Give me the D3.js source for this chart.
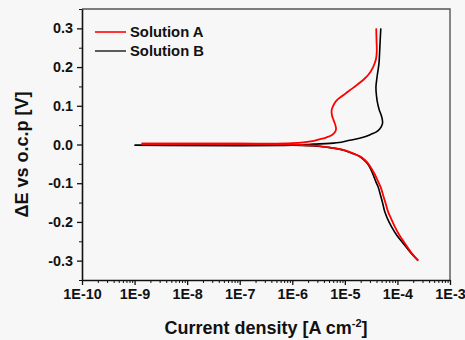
<!DOCTYPE html>
<html>
<head>
<meta charset="utf-8">
<script src="https://cdn.jsdelivr.net/npm/d3@7"></script>
<style>
  body { margin: 0; background: #f7f7f7; }
  svg { display: block; }
  text { font-family: Arial, "Liberation Sans", sans-serif; font-weight: bold; fill: #111; }
</style>
</head>
<body>
<div id="chart"></div>
<script>
// [potential V, current density A/cm2]
const solutionACathodic = [
  [-0.300, 2.48e-4], [-0.280, 1.85e-4], [-0.255, 1.38e-4], [-0.235, 1.1e-4],
  [-0.212, 8.9e-5], [-0.190, 7.5e-5], [-0.174, 6.65e-5], [-0.150, 5.9e-5],
  [-0.131, 5.35e-5], [-0.110, 4.8e-5], [-0.096, 4.3e-5], [-0.080, 3.8e-5],
  [-0.062, 3.2e-5], [-0.050, 2.8e-5], [-0.040, 2.4e-5], [-0.030, 1.9e-5],
  [-0.023, 1.44e-5], [-0.016, 1.05e-5], [-0.012, 8.0e-6], [-0.008, 5.3e-6],
  [-0.004, 3.35e-6], [-0.002, 1.9e-6], [0.000, 1.0e-6], [0.002, 1.0e-7],
  [0.002, 1.36e-9]
];
const solutionAAnodic = [
  [0.002, 1.36e-9], [0.002, 1.0e-7], [0.003, 8e-7], [0.004, 1.2e-6],
  [0.007, 1.9e-6], [0.010, 2.7e-6], [0.014, 3.4e-6], [0.018, 4.4e-6],
  [0.024, 5.6e-6], [0.032, 6.5e-6], [0.040, 6.8e-6], [0.050, 6.6e-6],
  [0.063, 6.1e-6], [0.075, 5.7e-6], [0.088, 5.6e-6], [0.100, 6.0e-6],
  [0.110, 6.6e-6], [0.118, 7.5e-6], [0.127, 9.3e-6], [0.140, 1.24e-5],
  [0.153, 1.67e-5], [0.166, 2.2e-5], [0.180, 2.8e-5], [0.200, 3.45e-5],
  [0.220, 3.9e-5], [0.240, 4.05e-5], [0.270, 4.0e-5], [0.300, 3.95e-5]
];
const solutionBCathodic = [
  [-0.300, 2.48e-4], [-0.280, 1.8e-4], [-0.255, 1.28e-4], [-0.235, 9.8e-5],
  [-0.212, 7.7e-5], [-0.190, 6.4e-5], [-0.174, 5.75e-5], [-0.150, 5.2e-5],
  [-0.131, 4.77e-5], [-0.110, 4.3e-5], [-0.096, 3.88e-5], [-0.080, 3.5e-5],
  [-0.062, 3.05e-5], [-0.050, 2.7e-5], [-0.040, 2.3e-5], [-0.030, 1.85e-5],
  [-0.023, 1.4e-5], [-0.016, 1.02e-5], [-0.012, 7.8e-6], [-0.008, 5.2e-6],
  [-0.005, 3.4e-6], [-0.003, 2.0e-6], [-0.002, 1.0e-6], [-0.002, 1.0e-9]
];
const solutionBAnodic = [
  [-0.002, 1.0e-9], [-0.002, 1.0e-6], [0.000, 2.0e-6], [0.001, 2.5e-6],
  [0.003, 5.2e-6], [0.006, 8.5e-6], [0.011, 1.24e-5], [0.016, 1.9e-5],
  [0.020, 2.4e-5], [0.026, 3.1e-5], [0.032, 3.9e-5], [0.040, 4.6e-5],
  [0.054, 5.2e-5], [0.065, 5.15e-5], [0.076, 4.9e-5], [0.090, 4.5e-5],
  [0.106, 4.2e-5], [0.125, 4.0e-5], [0.148, 3.9e-5], [0.175, 4.1e-5],
  [0.209, 4.45e-5], [0.243, 4.6e-5], [0.270, 4.7e-5], [0.300, 4.83e-5]
];

const seriesNames = ['Solution A', 'Solution B'];
const seriesColors = ['#ff0000', '#000000'];
const xTicks = [1e-10, 1e-9, 1e-8, 1e-7, 1e-6, 1e-5, 1e-4, 1e-3];
const yTicks = [-0.3, -0.2, -0.1, 0.0, 0.1, 0.2, 0.3];

const width = 465;
const height = 340;
const margin = { left: 82, right: 15, top: 9, bottom: 60 };

const svg = d3.select('#chart').append('svg')
  .attr('width', width)
  .attr('height', height);

const x = d3.scaleLog()
  .domain([1e-10, 1e-3])
  .range([margin.left, width - margin.right]);

const y = d3.scaleLinear()
  .domain([-0.35, 0.35])
  .range([height - margin.bottom, margin.top]);

// minor ticks
const xMinor = [];
xTicks.slice(0, -1).forEach((t) => {
  for (let k = 2; k < 10; k++) xMinor.push(t * k);
});
const yMinor = d3.range(-0.35, 0.351, 0.1).map(v => +v.toFixed(2));

// frame (top / right)
svg.append('path')
  .attr('d', `M${x.range()[0]},${y.range()[1]}H${x.range()[1]}V${y.range()[0]}`)
  .attr('fill', 'none')
  .attr('stroke', '#555')
  .attr('stroke-width', 1.4);

const axisStyle = (g) => {
  g.select('.domain').attr('stroke', '#111').attr('stroke-width', 1.6);
  g.selectAll('.tick line').attr('stroke', '#111').attr('stroke-width', 1.3);
  g.selectAll('text')
    .style('font-size', '14.4px')
    .style('font-family', 'Arial, "Liberation Sans", sans-serif')
    .style('font-weight', 'bold')
    .attr('fill', '#111');
};

svg.append('g')
  .attr('transform', `translate(0,${y.range()[0]})`)
  .call(d3.axisBottom(x).tickValues(xMinor).tickSize(3).tickFormat('').tickSizeOuter(0))
  .call(g => g.select('.domain').remove())
  .call(g => g.selectAll('.tick line').attr('stroke', '#111'));

svg.append('g')
  .attr('transform', `translate(0,${y.range()[0]})`)
  .call(d3.axisBottom(x)
    .tickValues(xTicks)
    .tickSize(5)
    .tickPadding(4)
    .tickSizeOuter(0)
    .tickFormat(d => `1E${Math.round(Math.log10(d))}`))
  .call(axisStyle);

svg.append('g')
  .attr('transform', `translate(${x.range()[0]},0)`)
  .call(d3.axisLeft(y).tickValues(yMinor).tickSize(3).tickFormat('').tickSizeOuter(0))
  .call(g => g.select('.domain').remove())
  .call(g => g.selectAll('.tick line').attr('stroke', '#111'));

svg.append('g')
  .attr('transform', `translate(${x.range()[0]},0)`)
  .call(d3.axisLeft(y)
    .tickValues(yTicks)
    .tickSize(5)
    .tickPadding(4)
    .tickSizeOuter(0)
    .tickFormat(d => d.toFixed(1)))
  .call(axisStyle);

// curves
const line = d3.line()
  .x(d => x(d[1]))
  .y(d => y(d[0]))
  .curve(d3.curveCatmullRom.alpha(0.5));

const branches = [
  { data: solutionBCathodic, s: 1 },
  { data: solutionBAnodic, s: 1 },
  { data: solutionACathodic, s: 0 },
  { data: solutionAAnodic, s: 0 },
];

svg.append('g')
  .selectAll('path')
  .data(branches)
  .enter()
  .append('path')
  .attr('d', d => line(d.data))
  .attr('fill', 'none')
  .attr('stroke', d => seriesColors[d.s])
  .attr('stroke-width', d => (d.s === 0 ? 1.8 : 1.6))
  .attr('stroke-linejoin', 'round');

// legend
const legend = svg.append('g')
  .selectAll('g')
  .data(seriesNames)
  .enter()
  .append('g')
  .attr('transform', (d, i) => `translate(95,${32 + i * 19})`);

legend.append('line')
  .attr('x1', 0)
  .attr('x2', 31)
  .attr('stroke', (d, i) => (i === 0 ? seriesColors[0] : '#333'))
  .attr('stroke-width', 1.6);

legend.append('text')
  .attr('x', 35)
  .attr('dy', '0.36em')
  .style('font-size', '14.8px')
  .text(d => d);

// axis titles
const xTitle = svg.append('text')
  .attr('x', (x.range()[0] + x.range()[1]) / 2)
  .attr('y', 334)
  .attr('text-anchor', 'middle')
  .style('font-size', '18px');
xTitle.append('tspan').text('Current density [A cm');
xTitle.append('tspan').attr('dy', -7).style('font-size', '11px').text('-2');
xTitle.append('tspan').attr('dy', 7).text(']');

svg.append('text')
  .attr('transform', `translate(28,${y(0) + 10}) rotate(-90)`)
  .attr('text-anchor', 'middle')
  .style('font-size', '18px')
  .text('ΔE vs o.c.p [V]');
</script>
</body>
</html>
